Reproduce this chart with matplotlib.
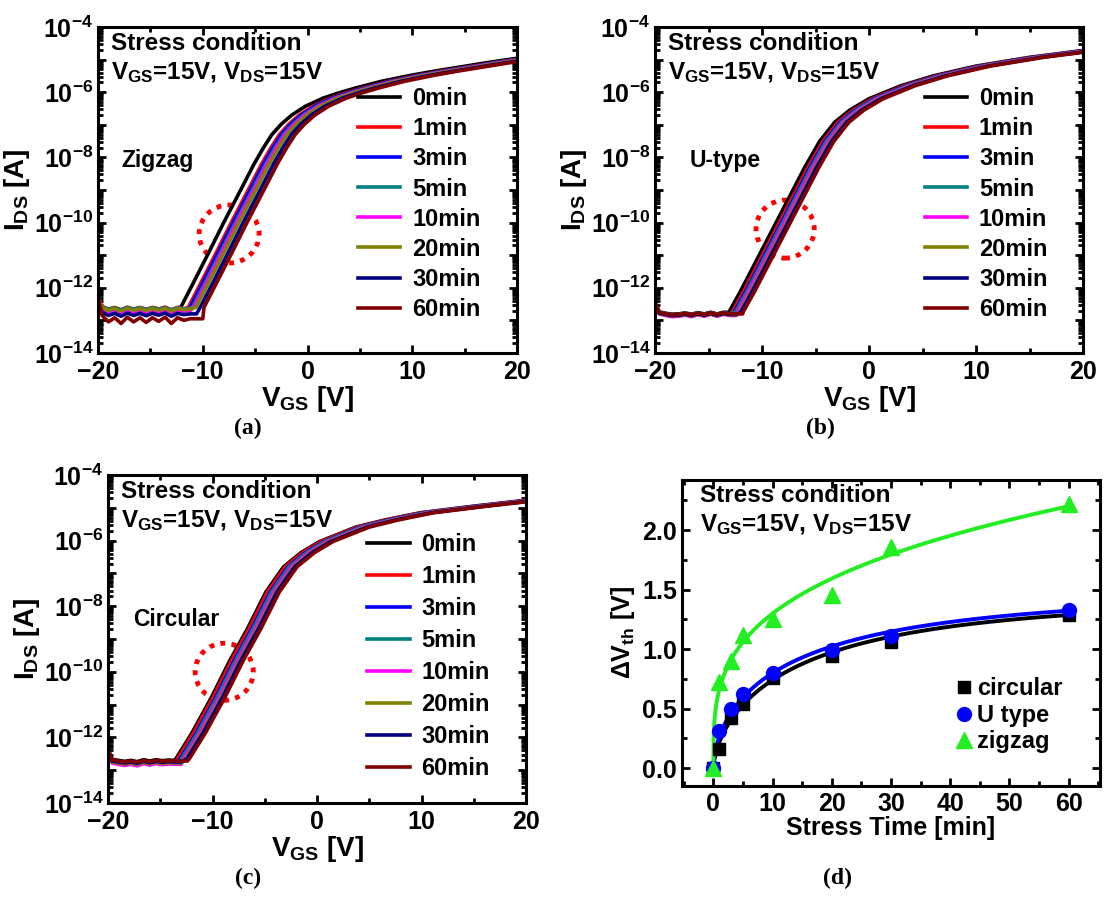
import numpy as np
import matplotlib
matplotlib.use('Agg')
import matplotlib.pyplot as plt
from matplotlib.patches import Ellipse
from matplotlib.ticker import LogLocator, FixedLocator, MultipleLocator, FuncFormatter, NullFormatter

plt.rcParams['font.family'] = ['Liberation Sans', 'DejaVu Sans']
plt.rcParams['font.weight'] = 'bold'
plt.rcParams['axes.labelweight'] = 'bold'
plt.rcParams['mathtext.fontset'] = 'custom'
plt.rcParams['mathtext.rm'] = 'Liberation Sans:bold'
plt.rcParams['mathtext.bf'] = 'Liberation Sans:bold'
plt.rcParams['mathtext.it'] = 'Liberation Sans:bold'
plt.rcParams['axes.linewidth'] = 2.2

# stress times / legend entries
times = ['0min', '1min', '3min', '5min', '10min', '20min', '30min', '60min']
colors = ['#000000', '#ff0000', '#0000ff', '#008080', '#ff00ff', '#808000', '#000080', '#800000']

# threshold voltage shift vs stress time (panel d), also used as curve shifts
stress_t = [0, 1, 3, 5, 10, 20, 30, 60]
dvth_circular = [0, 0.16, 0.42, 0.54, 0.76, 0.94, 1.06, 1.29]
dvth_utype = [0, 0.31, 0.50, 0.62, 0.80, 0.99, 1.11, 1.33]
dvth_zigzag = [0, 0.72, 0.90, 1.12, 1.25, 1.45, 1.86, 2.22]

# fitted curves in (d): stretched exponential (V0, tau, beta) and power law (A, n)
fit_circular = (1.42, 16.0, 0.65)
fit_utype = (1.47, 15.0, 0.60)
fit_zigzag = (0.66, 0.294)

# 0min transfer curves, VGS [V] and log10(IDS)
zig_v = [-14, -13.1, -12.1, -10.9, -9.4, -8.0, -6.3, -5.1, -4.2, -3.4, -2.5, -1.5, -0.2, 1.5, 3.0, 4.6, 7.0, 9.9, 12.0, 14.9, 17.0, 20.0]
zig_log = [-13.6, -13.1, -12.6, -11.85, -10.9, -10.0, -8.95, -8.2, -7.7, -7.3, -6.98, -6.7, -6.43, -6.18, -6.02, -5.87, -5.67, -5.48, -5.36, -5.21, -5.1, -4.96]

ut_v = [-14.5, -13.1, -12.0, -10.5, -9.0, -7.5, -6.0, -4.6, -3.2, -1.8, 0.0, 3.0, 6.0, 10.0, 15.0, 20.0]
ut_log = [-13.6, -12.75, -12.1, -11.15, -10.2, -9.25, -8.3, -7.5, -6.92, -6.55, -6.2, -5.8, -5.5, -5.2, -4.93, -4.72]

cir_v = [-14.5, -13.5, -11.96, -10.07, -8.35, -6.63, -4.9, -3.2, -1.5, 0.24, 3.7, 6.5, 9.9, 15.0, 20.0]
cir_log = [-13.2, -12.65, -11.86, -10.76, -9.66, -8.67, -7.57, -6.8, -6.36, -6.03, -5.59, -5.37, -5.15, -4.95, -4.77]

# off-state floor: VGS points, ripple shape, per-curve level and ripple size
floor_v = [-20, -19.6, -19.0, -18.4, -17.8, -17.2, -16.6, -16.0, -15.4, -14.8, -14.2, -13.6, -13.0, -12.4, -11.8, -11.2, -10.6, -10.0, -9.4]
zig_wave = [0.40, 0.06, -0.06, 0.02, -0.09, 0.03, -0.06, 0.02, -0.07, 0.02, -0.05, 0.03, -0.09, 0.02, -0.03, 0.0, 0.0, 0.0, 0.0]
zig_floor = [-12.62, -12.62, -12.68, -12.63, -12.70, -12.65, -12.80, -12.95]
zig_amp = [0.6, 0.8, 0.8, 0.6, 0.8, 0.7, 0.8, 1.6]

ut_wave = [0.35, 0.04, 0.0, -0.03, -0.02, 0.01, -0.03, 0.02, -0.02, 0.03, -0.02, 0.03, 0.0, 0.0, 0.0, 0.0, 0.0, 0.0, 0.0]
ut_floor = [-12.78, -12.80, -12.82, -12.80, -12.85, -12.83, -12.82, -12.80]
ut_amp = [1.0, 1.0, 1.0, 1.0, 1.2, 1.0, 1.0, 1.0]

cir_wave = [0.35, 0.03, 0.0, -0.03, 0.0, -0.04, 0.02, -0.02, 0.02, -0.01, 0.01, 0.0, 0.0, 0.0, 0.0, 0.0, 0.0, 0.0, 0.0]
cir_floor = [-12.70, -12.75, -12.80, -12.78, -12.82, -12.78, -12.75, -12.72]
cir_amp = [1.0, 1.0, 1.2, 1.0, 1.2, 1.0, 1.0, 1.0]

fig = plt.figure(figsize=(11.06, 8.98), dpi=100)
W, H = 1106.0, 898.0


def add_ax(l, r, t, b):
    return fig.add_axes([l / W, 1 - b / H, (r - l) / W, (b - t) / H])


def style_ax(ax):
    ax.tick_params(which='both', direction='in', top=True, right=True, width=2.0, labelsize=18)
    ax.tick_params(which='major', length=6)
    ax.tick_params(which='minor', length=3.5)
    ax.tick_params(axis='x', pad=5)
    for lab in ax.get_xticklabels() + ax.get_yticklabels():
        lab.set_fontweight('bold')


def dec_fmt(v, pos):
    e = int(round(np.log10(v)))
    return r'$\mathbf{10^{%d}}$' % e if e % 2 == 0 else ''


def transfer_panel(ax, bv, blog, wave, floor, amp, shifts, name, circ, leg_xy, leg_sp):
    bv = np.asarray(bv)
    blog = np.asarray(blog)
    fv = np.asarray(floor_v)
    fw = np.asarray(wave)
    for k in range(len(times)):
        on_v = bv + shifts[k]
        keep = blog > floor[k]
        start = on_v[keep][0]
        m = fv < start
        x = np.concatenate([fv[m], on_v[keep]])
        y = np.concatenate([floor[k] + amp[k] * fw[m], blog[keep]])
        ax.semilogy(x, 10.0 ** y, color=colors[k], lw=2.6, label=times[k])
    ax.set_xlim(-20, 20)
    ax.set_ylim(1e-14, 1e-4)
    ax.xaxis.set_major_locator(FixedLocator([-20, -10, 0, 10, 20]))
    ax.xaxis.set_minor_locator(FixedLocator([-15, -5, 5, 15]))
    ax.yaxis.set_major_locator(LogLocator(base=10, numticks=20))
    ax.yaxis.set_minor_locator(LogLocator(base=10, subs=np.arange(2, 10), numticks=20))
    ax.yaxis.set_major_formatter(FuncFormatter(dec_fmt))
    ax.yaxis.set_minor_formatter(NullFormatter())
    style_ax(ax)
    ax.set_xlabel(r'V$_\mathbf{GS}$ [V]', fontsize=20, labelpad=0)
    ax.set_ylabel(r'I$_\mathbf{DS}$ [A]', fontsize=20, labelpad=1)
    ax.text(0.03, 0.95, 'Stress condition', transform=ax.transAxes, fontsize=17.5,
            va='center', ha='left')
    ax.text(0.03, 0.86, r'V$_\mathbf{GS}$=15V, V$_\mathbf{DS}$=15V', transform=ax.transAxes,
            fontsize=17.5, va='center', ha='left')
    ax.text(name[1], name[2], name[0], transform=ax.transAxes, fontsize=16.5,
            va='center', ha='left')
    ax.add_patch(Ellipse((circ[0], circ[1]), circ[2], circ[3], transform=ax.transAxes,
                         fill=False, edgecolor='#ff0000', lw=3.5, linestyle=(0, (1, 1.3))))
    ax.legend(loc='upper left', bbox_to_anchor=leg_xy, frameon=False, fontsize=17,
              handlelength=1.8, handletextpad=0.5, labelspacing=leg_sp,
              borderpad=0, borderaxespad=0)


ax_a = add_ax(98, 517, 27, 353)
transfer_panel(ax_a, zig_v, zig_log, zig_wave, zig_floor, zig_amp, dvth_zigzag,
               ('Zigzag', 0.055, 0.59), (0.313, 0.365, 0.143, 0.178), (0.62, 0.815), 0.3)

ax_b = add_ax(655, 1083, 27, 353)
transfer_panel(ax_b, ut_v, ut_log, ut_wave, ut_floor, ut_amp, dvth_utype,
               ('U-type', 0.082, 0.59), (0.304, 0.38, 0.136, 0.178), (0.63, 0.815), 0.3)

ax_c = add_ax(108, 526, 475, 803)
transfer_panel(ax_c, cir_v, cir_log, cir_wave, cir_floor, cir_amp, dvth_circular,
               ('Circular', 0.06, 0.56), (0.278, 0.40, 0.139, 0.174), (0.62, 0.823), 0.38)

# panel (d)
ax_d = add_ax(682, 1100, 480, 786)
tt = np.linspace(0, 60, 1201)


def stretched(t, p):
    return p[0] * (1 - np.exp(-(t / p[1]) ** p[2]))


def power(t, p):
    return p[0] * t ** p[1]


ax_d.plot(tt, stretched(tt, fit_circular), color='black', lw=2.8)
ax_d.plot(tt, stretched(tt, fit_utype), color='#0000ff', lw=2.8)
ax_d.plot(tt, power(tt, fit_zigzag), color='#22ee22', lw=2.8)
ax_d.plot(stress_t, dvth_circular, 's', color='black', ms=8.5, ls='none', label='circular')
ax_d.plot(stress_t, dvth_utype, 'o', color='#0000ff', ms=10, ls='none', label='U type')
ax_d.plot(stress_t, dvth_zigzag, '^', color='#22ee22', ms=11, ls='none', label='zigzag')
ax_d.set_xlim(-5.3, 65.3)
ax_d.set_ylim(-0.15, 2.42)
ax_d.xaxis.set_major_locator(MultipleLocator(10))
ax_d.xaxis.set_minor_locator(MultipleLocator(5))
ax_d.yaxis.set_major_locator(MultipleLocator(0.5))
ax_d.yaxis.set_minor_locator(MultipleLocator(0.25))
ax_d.yaxis.set_major_formatter(FuncFormatter(lambda v, p: '%.1f' % v))
style_ax(ax_d)
ax_d.tick_params(axis='x', pad=4)
ax_d.set_xlabel('Stress Time [min]', fontsize=18, labelpad=0)
ax_d.set_ylabel(r'$\Delta$V$_\mathbf{th}$ [V]', fontsize=18, labelpad=4)
ax_d.text(0.043, 0.948, 'Stress condition', transform=ax_d.transAxes, fontsize=17.5,
          va='center', ha='left')
ax_d.text(0.043, 0.855, r'V$_\mathbf{GS}$=15V, V$_\mathbf{DS}$=15V', transform=ax_d.transAxes,
          fontsize=17.5, va='center', ha='left')
ax_d.legend(loc='upper left', bbox_to_anchor=(0.657, 0.355), frameon=False, fontsize=17,
            handlelength=0.6, handletextpad=0.25, labelspacing=0.15,
            borderpad=0, borderaxespad=0)

# panel captions
for lab, x, y in [('(a)', 248, 428), ('(b)', 820, 428), ('(c)', 248, 878), ('(d)', 837, 878)]:
    fig.text(x / W, 1 - y / H, lab, ha='center', va='center', fontsize=17,
             family='Liberation Serif', weight='bold')

fig.savefig('out.png', dpi=100)
